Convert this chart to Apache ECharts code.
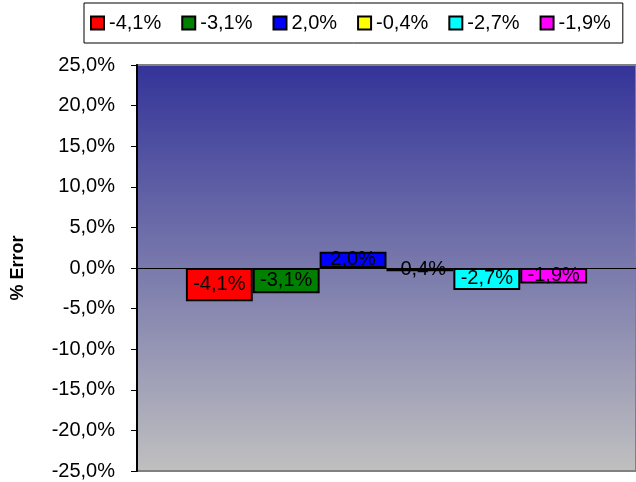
<!DOCTYPE html>
<html><head><meta charset="utf-8">
<script src="https://cdn.jsdelivr.net/npm/echarts@6/dist/echarts.min.js"></script>
<style>html,body{margin:0;padding:0;background:#fff}#c{width:636px;height:482px}</style>
</head><body><div id="c"></div>
<script>
var categories = [''];
var seriesNames = ['-4,1%', '-3,1%', '2,0%', '-0,4%', '-2,7%', '-1,9%'];
var seriesValues = [-4.1, -3.1, 2.0, -0.4, -2.7, -1.9];
var seriesColors = ['#ff0000', '#008000', '#0000ff', '#ffff00', '#00ffff', '#ff00ff'];
var yMin = -25, yMax = 25, yStep = 5;

function fmt(v) { return v.toFixed(1).replace('.', ',') + '%'; }

var chart = echarts.init(document.getElementById('c'), null, {renderer: 'canvas'});
var series = seriesNames.map(function (n, i) {
  return {
    name: n, type: 'bar', data: [seriesValues[i]],
    barGap: '0%', barCategoryGap: '19.6%',
    itemStyle: {color: seriesColors[i], borderColor: '#000', borderWidth: 2},
    label: {show: true, position: 'inside', formatter: function (p) { return fmt(p.value); },
      color: '#000', fontFamily: 'Liberation Sans', fontSize: 20}
  };
});
chart.setOption({
  animation: false,
  textStyle: {fontFamily: 'Liberation Sans'},
  legend: {
    left: 84, top: 3, width: 529, padding: [10, 12, 10, 6], itemGap: 20,
    itemWidth: 13, itemHeight: 13, icon: 'rect',
    borderColor: '#000', borderWidth: 1,
    itemStyle: {borderColor: '#000', borderWidth: 2},
    textStyle: {fontSize: 20, color: '#000', fontFamily: 'Liberation Sans'},
    data: seriesNames
  },
  grid: {
    left: 137, top: 65, right: -3, bottom: 11, show: true,
    borderColor: '#808080', borderWidth: 2,
    backgroundColor: new echarts.graphic.LinearGradient(0, 0, 0, 1, [
      {offset: 0, color: '#333399'}, {offset: 1, color: '#c0c0c0'}
    ])
  },
  xAxis: {
    type: 'category', data: categories,
    axisLine: {onZero: true, lineStyle: {color: '#000', width: 1}},
    axisTick: {show: false}, axisLabel: {show: false}, splitLine: {show: false}
  },
  yAxis: {
    type: 'value', min: yMin, max: yMax, interval: yStep,
    name: '% Error', nameLocation: 'middle', nameGap: 110, nameRotate: 90,
    nameTextStyle: {fontSize: 18, fontWeight: 'bold', color: '#000', fontFamily: 'Liberation Sans'},
    axisLine: {show: true, lineStyle: {color: '#000', width: 2}},
    axisTick: {show: true, length: 6, lineStyle: {color: '#000'}},
    axisLabel: {formatter: fmt, fontSize: 20, color: '#000', margin: 22, fontFamily: 'Liberation Sans'},
    splitLine: {show: false}
  },
  series: series
});
</script></body></html>
